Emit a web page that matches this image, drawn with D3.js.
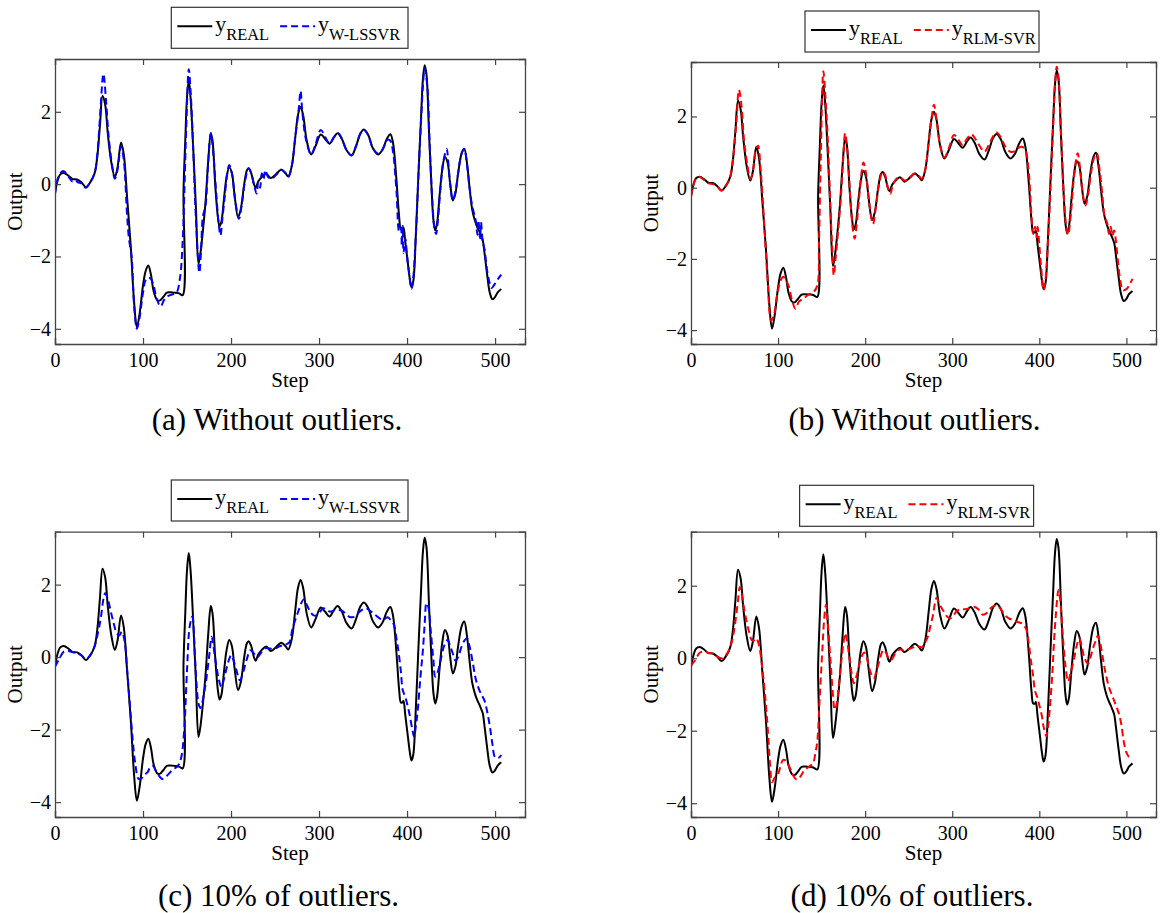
<!DOCTYPE html>
<html><head><meta charset="utf-8">
<script src="https://cdn.jsdelivr.net/npm/d3@7"></script>
<style>body{margin:0;background:#fff}svg{display:block}svg text{font-family:"Liberation Serif","Times New Roman","DejaVu Serif",serif !important;fill:#000}</style>
</head><body>
<svg id="c" width="1166" height="913"></svg>
<script>
// ---------- DATA ----------
const xTicks = [0, 100, 200, 300, 400, 500];
const yTicks = [-4, -2, 0, 2];
const xLabel = "Step";
const yLabel = "Output";
const realName = "REAL";
const captions = ["(a) Without outliers.", "(b) Without outliers.", "(c) 10% of outliers.", "(d) 10% of outliers."];
const predNames = ["W-LSSVR", "RLM-SVR", "W-LSSVR", "RLM-SVR"];

const realX = [0,3,6,10,15,20,25,30,35,40,45,48,51,54,57,60,64,68,71,75,78,82,86,90,93,96,100,103,106,109,112,116,119,123,127,131,136,141,145,146,148,150,152,154,157,160,163,165,168,171,174,177,179,182,185,187,189,192,195,198,201,204,208,211,215,218,220,223,226,228,231,235,240,245,250,257,262,265,269,273,276,279,282,286,291,296,302,307,312,317,321,326,331,337,342,347,351,356,361,367,372,377,381,384,388,391,393,395,396,398,401,403,405,407,410,413,416,418,420,422,425,428,430,432,434,437,440,443,446,449,452,455,458,462,465,468,471,474,477,480,482,484,486,488,491,494,497,500,503,507];
const realY = [-0.25,0.1,0.27,0.31,0.24,0.14,0.13,0.05,-0.08,0.05,0.3,0.75,1.6,2.44,2.2,1.4,0.6,0.2,0.45,1.15,0.85,-0.4,-1.7,-3.3,-3.96,-3.6,-2.8,-2.4,-2.25,-2.5,-2.95,-3.2,-3.22,-3.12,-3.0,-2.99,-3.0,-3.02,-3.07,-0.2,1.2,2.4,2.87,2.4,1.0,-0.6,-2.2,-1.95,-1.3,-0.5,0.6,1.41,1.2,0.0,-0.9,-1.17,-1.05,-0.4,0.2,0.47,0.3,-0.3,-0.91,-0.7,0.0,0.38,0.44,0.3,0.0,-0.1,0.08,0.2,0.29,0.17,0.25,0.4,0.3,0.21,0.5,1.3,1.9,2.13,1.9,1.2,0.82,1.05,1.37,1.25,1.12,1.3,1.41,1.25,0.95,0.79,1.05,1.4,1.51,1.35,1.0,0.82,0.95,1.25,1.38,1.15,0.1,-0.9,-1.25,-1.25,-1.2,-1.6,-2.2,-2.6,-2.85,-2.7,-1.4,0.3,1.9,2.9,3.29,3.05,1.4,-0.2,-1.0,-1.28,-1.1,-0.3,0.4,0.75,0.6,0.0,-0.45,-0.25,0.3,0.85,0.98,0.6,-0.1,-0.7,-1.0,-1.2,-1.3,-1.42,-1.55,-1.9,-2.5,-3.0,-3.18,-3.12,-2.99,-2.9];

const wlsCleanX = [0,3,6,9,13,17,20,23,26,30,35,40,45,48,51,55,58,61,65,68,71,75,78,82,84,87,90,93,96,100,103,106,109,112,116,120,124,128,133,138,142,145,147,149,152,154,157,160,164,166,168,171,174,177,180,183,186,188,190,193,196,198,201,205,209,212,216,220,223,226,229,231,233,235,237,239,242,246,251,257,262,265,269,273,277,279,281,285,291,296,302,307,312,317,322,326,331,337,342,347,351,356,361,367,372,378,381,384,388,391,393,394,395,396,398,400,402,405,407,410,413,416,418,420,423,426,429,431,433,435,438,441,445,447,449,452,455,458,462,465,468,471,474,477,478,480,481,483,484,486,488,491,494,496,500,504,507];
const wlsCleanY = [-0.28,0.15,0.3,0.36,0.3,0.15,0.07,0.12,0.05,0.02,-0.1,0.05,0.3,0.8,1.8,3.05,2.3,1.3,0.5,0.15,0.4,1.04,0.7,-0.9,-1.5,-2.0,-3.4,-4.0,-3.7,-3.0,-2.65,-2.59,-2.62,-2.8,-3.2,-3.38,-3.2,-3.1,-3.05,-3.0,-2.6,-1.6,-0.2,1.5,3.18,2.6,1.0,-0.9,-2.45,-1.8,-0.9,-0.6,0.6,1.41,0.8,-0.2,-1.1,-1.42,-1.0,-0.3,0.35,0.53,0.3,-0.5,-0.96,-0.6,0.1,0.44,0.3,0.0,-0.26,0.05,-0.1,0.3,0.15,0.39,0.2,0.15,0.25,0.4,0.3,0.2,0.5,1.3,2.1,2.58,2.0,1.25,0.82,1.1,1.5,1.3,1.12,1.3,1.4,1.25,0.95,0.8,1.05,1.4,1.5,1.35,1.0,0.85,0.95,1.23,1.2,0.9,-0.2,-1.3,-1.2,-1.7,-1.15,-1.9,-1.5,-2.0,-2.4,-2.9,-2.6,-1.4,0.3,1.8,2.7,3.2,2.7,0.9,-0.6,-1.2,-1.38,-1.0,-0.1,0.6,0.97,0.55,0.0,-0.45,-0.2,0.3,0.85,0.97,0.55,-0.1,-0.6,-0.9,-1.0,-1.4,-1.0,-1.5,-1.05,-1.6,-1.8,-2.4,-2.75,-2.87,-2.75,-2.6,-2.5];

const rlmCleanX = [0,3,6,10,15,20,25,30,35,40,45,48,52,55,58,61,65,68,71,74,77,80,84,88,92,95,99,103,106,109,112,116,120,124,130,135,140,145,147,149,152,154,157,160,162,164,166,169,172,175,177,180,183,186,188,190,193,196,198,201,205,209,212,216,220,223,226,229,232,236,240,245,250,257,262,265,269,273,276,279,282,286,291,296,302,307,312,317,322,327,332,337,342,347,351,356,361,367,372,376,380,384,388,391,393,395,397,398,400,402,405,407,410,413,416,418,420,422,425,428,431,433,436,439,442,444,447,450,453,456,459,463,466,469,472,475,478,480,482,484,486,488,490,493,496,500,503,507];
const rlmCleanY = [-0.25,0.1,0.27,0.3,0.22,0.12,0.1,0.04,-0.08,0.05,0.3,0.75,1.8,2.75,2.3,1.3,0.6,0.25,0.45,1.0,1.18,0.5,-1.0,-2.6,-3.73,-3.6,-3.0,-2.6,-2.5,-2.6,-2.75,-3.15,-3.4,-3.2,-3.1,-3.0,-2.95,-2.75,-1.5,0.8,3.27,2.7,1.4,-0.5,-1.6,-2.46,-2.0,-1.2,-0.3,0.9,1.53,0.9,-0.3,-1.2,-1.43,-1.1,-0.3,0.45,0.71,0.4,-0.5,-1.02,-0.6,0.1,0.45,0.35,0.0,-0.17,0.1,0.25,0.3,0.2,0.25,0.4,0.32,0.25,0.5,1.3,1.9,2.33,1.9,1.2,0.85,1.1,1.48,1.35,1.2,1.38,1.5,1.35,1.15,1.01,1.2,1.45,1.55,1.4,1.15,1.01,1.03,1.12,1.15,1.05,0.4,-0.8,-1.3,-1.1,-1.4,-1.1,-1.6,-2.2,-2.88,-2.6,-1.5,0.1,1.8,2.9,3.4,3.1,1.5,-0.2,-1.1,-1.33,-0.8,0.1,0.75,0.97,0.5,-0.2,-0.5,-0.2,0.35,0.85,0.97,0.55,-0.1,-0.8,-1.0,-1.3,-1.1,-1.35,-1.2,-1.5,-2.0,-2.6,-2.88,-2.85,-2.75,-2.56];

const wlsOutX = [0,5,10,15,20,25,30,35,40,45,49,52,55,57,60,63,66,70,73,76,79,82,85,88,91,95,98,101,105,108,111,115,119,122,126,130,134,138,141,144,147,150,153,156,159,161,163,165,167,170,172,175,178,180,183,186,189,192,195,198,200,203,206,210,214,218,222,226,230,235,240,248,255,262,266,270,274,277,280,283,286,290,294,297,301,305,309,313,318,322,326,330,334,338,342,346,350,353,357,362,366,370,374,378,382,385,388,390,393,395,398,400,403,406,408,410,412,415,418,420,422,424,427,430,432,435,438,442,446,449,452,455,458,462,465,468,471,475,478,482,485,488,491,494,497,500,504,507];
const wlsOutY = [-0.27,-0.04,0.15,0.17,0.14,0.1,0.05,-0.05,0.05,0.3,0.7,1.07,1.6,1.76,1.6,1.3,1.0,0.67,0.6,0.7,0.45,-0.36,-1.3,-2.2,-2.9,-3.36,-3.35,-3.25,-3.18,-3.05,-3.0,-3.15,-3.3,-3.36,-3.3,-3.2,-3.1,-3.04,-2.95,-2.7,-1.93,-0.36,0.84,1.12,0.0,-0.8,-1.28,-1.4,-1.28,-0.9,-0.6,0.0,0.56,0.3,-0.2,-0.6,-0.82,-0.6,-0.3,-0.05,0.05,-0.1,-0.35,-0.64,-0.4,-0.05,0.19,0.1,0.0,0.15,0.25,0.22,0.3,0.35,0.4,0.8,1.1,1.3,1.5,1.6,1.45,1.25,1.15,1.15,1.25,1.35,1.3,1.25,1.3,1.3,1.28,1.2,1.12,1.1,1.15,1.25,1.32,1.35,1.3,1.2,1.12,1.05,1.05,1.1,1.0,0.9,0.5,0.2,-0.4,-0.9,-1.1,-1.28,-1.6,-2.0,-2.2,-1.9,-1.5,-0.6,0.2,0.9,1.49,1.4,0.7,-0.1,-0.54,-0.4,-0.1,0.3,0.47,0.3,0.1,-0.1,0.0,0.3,0.45,0.52,0.3,-0.2,-0.6,-0.9,-1.05,-1.2,-1.5,-1.9,-2.4,-2.76,-2.78,-2.7];

const rlmOutX = [0,5,10,15,20,25,30,35,40,45,49,52,54,56,58,60,64,67,70,73,75,77,80,82,85,88,91,93,96,100,103,106,110,113,116,119,122,126,130,135,140,143,145,148,151,153,155,157,160,163,165,167,170,173,175,177,179,182,185,187,190,193,196,199,202,205,208,210,213,216,219,221,224,227,230,235,240,245,250,255,258,262,265,268,272,275,278,280,282,285,290,294,298,302,305,310,315,320,325,330,335,340,345,349,352,356,360,365,370,375,380,383,385,388,390,393,395,398,400,403,405,408,410,412,415,417,419,422,424,427,430,433,436,440,443,446,449,452,456,459,462,465,467,470,473,476,480,484,488,491,494,497,500,503,507];
const rlmOutY = [-0.2,-0.05,0.15,0.18,0.15,0.12,0.05,0.0,0.08,0.3,0.7,1.2,1.6,1.96,1.8,1.5,1.0,0.7,0.49,0.5,0.55,0.46,0.1,-0.3,-1.0,-1.9,-3.0,-3.42,-3.3,-3.2,-2.95,-2.8,-2.85,-3.0,-3.15,-3.3,-3.35,-3.25,-3.1,-3.0,-2.9,-2.6,-2.3,-1.0,0.3,1.1,1.47,1.0,0.0,-1.0,-1.42,-1.3,-0.7,0.0,0.4,0.69,0.5,0.0,-0.5,-0.69,-0.5,-0.2,0.05,0.16,0.0,-0.3,-0.5,-0.55,-0.35,-0.1,0.15,0.23,0.15,0.0,-0.05,0.15,0.25,0.2,0.25,0.3,0.35,0.32,0.3,0.4,0.6,0.9,1.2,1.5,1.67,1.5,1.3,1.15,1.1,1.2,1.3,1.35,1.35,1.38,1.42,1.35,1.2,1.25,1.4,1.45,1.45,1.35,1.2,1.1,1.05,1.0,0.96,0.88,0.8,0.4,0.0,-0.5,-0.9,-1.1,-1.3,-1.6,-1.9,-2.15,-1.9,-1.4,-0.4,0.5,1.2,1.88,1.6,0.6,-0.2,-0.64,-0.4,0.0,0.35,0.55,0.3,0.0,-0.15,0.05,0.3,0.5,0.62,0.4,0.0,-0.4,-0.8,-1.05,-1.3,-1.5,-1.8,-2.3,-2.6,-2.72,-2.73];

// ---------- LAYOUT ----------
const FONT = '"Liberation Serif","Times New Roman","DejaVu Serif",serif';
const predXs = [wlsCleanX, rlmCleanX, wlsOutX, rlmOutX];
const predYs = [wlsCleanY, rlmCleanY, wlsOutY, rlmOutY];
const predColors = ["#0000ff", "#ff0000", "#0000ff", "#ff0000"];
const panels = [
  {l:55,  r:525,  t:59,    b:344, yd:[-4.42,3.46], lg:{x:171.3,y:7.3,w:236.7},  cap:[277,430]},
  {l:691, r:1156, t:62,    b:344, yd:[-4.39,3.53], lg:{x:805,y:11,w:234},      cap:[914.5,430]},
  {l:55,  r:525,  t:531.7, b:817, yd:[-4.41,3.46], lg:{x:171.3,y:480,w:236.7}, cap:[278.5,906]},
  {l:691, r:1156, t:531.7, b:817, yd:[-4.38,3.49], lg:{x:799.6,y:485.3,w:234},  cap:[912,906]}
];
const xDomain = [0, 534];

const svg = d3.select("#c");
panels.forEach((p, i) => {
  const g = svg.append("g");
  const x = d3.scaleLinear().domain(xDomain).range([p.l, p.r]);
  const y = d3.scaleLinear().domain(p.yd).range([p.b, p.t]);
  const clipId = "clip" + i;
  g.append("clipPath").attr("id", clipId).append("rect")
    .attr("x", p.l).attr("y", p.t).attr("width", p.r - p.l).attr("height", p.b - p.t);

  const line = d3.line().x(d => x(d[0])).y(d => y(d[1])).curve(d3.curveCatmullRom.alpha(0.5));
  const real = realX.map((v, k) => [v, realY[k]]);
  const pred = predXs[i].map((v, k) => [v, predYs[i][k]]);
  const lines = g.append("g").attr("clip-path", `url(#${clipId})`);
  lines.append("path").attr("d", line(real)).attr("fill", "none").attr("stroke", "#000").attr("stroke-width", 2);
  lines.append("path").attr("d", line(pred)).attr("fill", "none").attr("stroke", predColors[i])
    .attr("stroke-width", 2).attr("stroke-dasharray", "7,4");

  // axes (ticks inside, box)
  const ax = g.append("g").attr("class", "axes");
  const bottom = d3.axisBottom(x).tickValues(xTicks).tickSize(-6).tickPadding(9).tickFormat(d3.format("d"));
  const top = d3.axisTop(x).tickValues(xTicks).tickSize(-6).tickFormat("");
  const left = d3.axisLeft(y).tickValues(yTicks).tickSize(-6).tickPadding(4).tickFormat(d3.format("d"));
  const right = d3.axisRight(y).tickValues(yTicks).tickSize(-6).tickFormat("");
  ax.append("g").attr("transform", `translate(0,${p.b})`).call(bottom);
  ax.append("g").attr("transform", `translate(0,${p.t})`).call(top);
  ax.append("g").attr("transform", `translate(${p.l},0)`).call(left);
  ax.append("g").attr("transform", `translate(${p.r},0)`).call(right);
  ax.selectAll("g").attr("font-family", FONT).attr("font-size", 20);
  ax.selectAll(".domain").attr("stroke", "#444").attr("stroke-width", 1.3);
  ax.selectAll(".tick line").attr("stroke", "#444").attr("stroke-width", 1.2);
  ax.selectAll(".tick text").style("font-family", FONT).style("font-size", "20px").attr("fill", "#000");

  g.append("text").attr("x", (p.l + p.r) / 2).attr("y", p.b + 42.5).attr("text-anchor", "middle")
    .style("font-family", FONT).style("font-size", "21px").text(xLabel);
  g.append("text").attr("transform", `translate(${p.l - 33},${(p.t + p.b) / 2}) rotate(-90)`)
    .attr("text-anchor", "middle").style("font-family", FONT).style("font-size", "21px").text(yLabel);

  // legend
  const lg = g.append("g");
  lg.append("rect").attr("x", p.lg.x).attr("y", p.lg.y).attr("width", p.lg.w).attr("height", 41)
    .attr("fill", "#fff").attr("stroke", "#333").attr("stroke-width", 1.2);
  const ly = p.lg.y + 19, tb = p.lg.y + 24;
  let cx = p.lg.x + 6;
  const items = [[realName, "#000", null], [predNames[i], predColors[i], "7,4"]];
  items.forEach((it, k) => {
    lg.append("line").attr("x1", cx).attr("x2", cx + 35).attr("y1", ly).attr("y2", ly)
      .attr("stroke", it[1]).attr("stroke-width", 2).attr("stroke-dasharray", it[2]);
    const t = lg.append("text").attr("x", cx + 38).attr("y", tb).style("font-family", FONT).style("font-size", "22px");
    t.append("tspan").text("y");
    t.append("tspan").style("font-size", "16.4px").attr("dy", 8.5).text(it[0]);
    cx = cx + 38 + t.node().getComputedTextLength() + 11;
  });

  svg.append("text").attr("x", p.cap[0]).attr("y", p.cap[1]).attr("text-anchor", "middle")
    .style("font-family", FONT).style("font-size", "31px").text(captions[i]);
});
</script>
</body></html>
